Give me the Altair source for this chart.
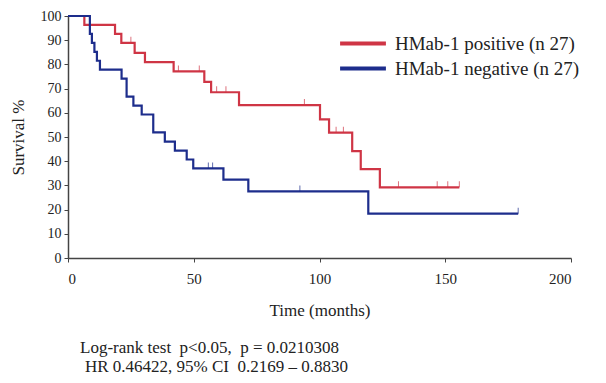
import altair as alt
import pandas as pd

# Kaplan-Meier step points
red_t = [0, 6.5, 18.7, 21.2, 26.5, 30.6, 42.0, 54.2, 56.9, 68.0, 100.2, 103.8, 113.0, 116.4, 124.0, 155.6]
red_s = [100, 96.3, 92.6, 88.9, 84.8, 80.9, 77.1, 72.8, 68.5, 63.2, 57.3, 51.8, 44.2, 36.7, 29.2, 29.2]
blue_t = [0, 8.7, 9.5, 10.5, 11.5, 12.7, 21.3, 23.3, 26.0, 29.3, 33.9, 38.5, 42.5, 47.2, 49.8, 61.8, 71.7, 119.4, 179.0]
blue_s = [100, 92.6, 88.9, 85.2, 81.5, 77.8, 74.1, 66.7, 63.0, 59.3, 51.9, 48.1, 44.4, 40.7, 37.0, 32.4, 27.5, 18.3, 18.3]

# censored observations
red_c_t = [25.0, 43.9, 52.2, 59.1, 62.8, 94.0, 106.6, 109.5, 131.4, 146.8, 151.0, 155.6]
red_c_s = [88.9, 77.1, 77.1, 68.5, 68.5, 63.2, 51.8, 51.8, 29.2, 29.2, 29.2, 29.2]
blue_c_t = [55.8, 57.5, 92.2, 179.0]
blue_c_s = [37.0, 37.0, 27.5, 18.3]

groups = ["HMab-1 positive (n 27)", "HMab-1 negative (n 27)"]
colors = ["#cf3545", "#1d2d8c"]

x_ticks = [0, 50, 100, 150, 200]
y_ticks = [0, 10, 20, 30, 40, 50, 60, 70, 80, 90, 100]

NB = "\u00a0"
stat_lines = ["Log-rank test" + NB * 2 + "p<0.05," + NB * 2 + "p = 0.0210308",
              "HR 0.46422, 95% CI" + NB * 2 + "0.2169 \u2013 0.8830"]

FONT = "Liberation Serif"

curves = pd.concat([
    pd.DataFrame({"t": red_t, "s": red_s, "g": groups[0]}),
    pd.DataFrame({"t": blue_t, "s": blue_s, "g": groups[1]}),
])
cens = pd.concat([
    pd.DataFrame({"t": red_c_t, "s": red_c_s, "g": groups[0], "w": 1.3}),
    pd.DataFrame({"t": blue_c_t, "s": blue_c_s, "g": groups[1],
                  "w": [1.3, 1.3, 3.0, 1.3]}),
])

xscale = alt.Scale(domain=[0, 200], nice=False)
yscale = alt.Scale(domain=[0, 100], nice=False)
cscale = alt.Scale(domain=groups, range=colors)

xaxis = alt.Axis(values=x_ticks, title="Time (months)", grid=False,
                 labelFont=FONT, labelFontSize=15, labelColor="#222",
                 titleFont=FONT, titleFontSize=17, titleFontWeight="normal",
                 titleColor="#222", titlePadding=16, labelPadding=9,
                 tickSize=4, tickColor="#444", domainColor="#444",
                 domainWidth=1.5)
yaxis = alt.Axis(values=y_ticks, title="Survival %", grid=False,
                 labelFont=FONT, labelFontSize=14, labelColor="#222",
                 titleFont=FONT, titleFontSize=17, titleFontWeight="normal",
                 titleColor="#222", titlePadding=13, labelPadding=3,
                 tickSize=4, tickColor="#444", domainColor="#444",
                 domainWidth=1.5)

lines = alt.Chart(curves).mark_line(interpolate="step-after", strokeWidth=2.2).encode(
    x=alt.X("t:Q", scale=xscale, axis=xaxis),
    y=alt.Y("s:Q", scale=yscale, axis=yaxis),
    color=alt.Color("g:N", scale=cscale, sort=groups,
                    legend=alt.Legend(title=None, orient="none", legendX=270,
                                      legendY=19, symbolType="stroke",
                                      symbolSize=2100, symbolStrokeWidth=4,
                                      labelFont=FONT, labelFontSize=19,
                                      labelColor="#222", rowPadding=5,
                                      clipHeight=17,
                                      labelOffset=7, labelLimit=400)),
    detail="g:N",
)

ticks = alt.Chart(cens).mark_tick(orient="vertical", size=6, yOffset=-3).encode(
    x=alt.X("t:Q", scale=xscale, axis=None),
    y=alt.Y("s:Q", scale=yscale, axis=None),
    color=alt.Color("g:N", scale=cscale, legend=None),
    strokeWidth=alt.StrokeWidth("w:Q", scale=None, legend=None),
)

text_df = pd.DataFrame({"txt": stat_lines, "i": [0, 1]})
stats = alt.Chart(text_df).mark_text(font=FONT, fontSize=17, align="left",
                                     baseline="middle", color="#222").encode(
    text="txt:N",
    x=alt.X("i:Q", scale=alt.Scale(domain=[0, 1], range=[12, 17]), axis=None),
    y=alt.Y("i:Q", scale=alt.Scale(domain=[0, 1], range=[332, 351]), axis=None),
)

chart = alt.layer(lines, ticks, stats).resolve_scale(x="independent", y="independent").properties(
    width=503, height=242,
    autosize=alt.AutoSizeParams(type="none"),
    padding={"left": 60, "top": 8, "right": 27, "bottom": 117},
    background="white",
).configure_view(stroke=None)

chart.save("out.html", embed_options={"renderer": "svg", "actions": False})
